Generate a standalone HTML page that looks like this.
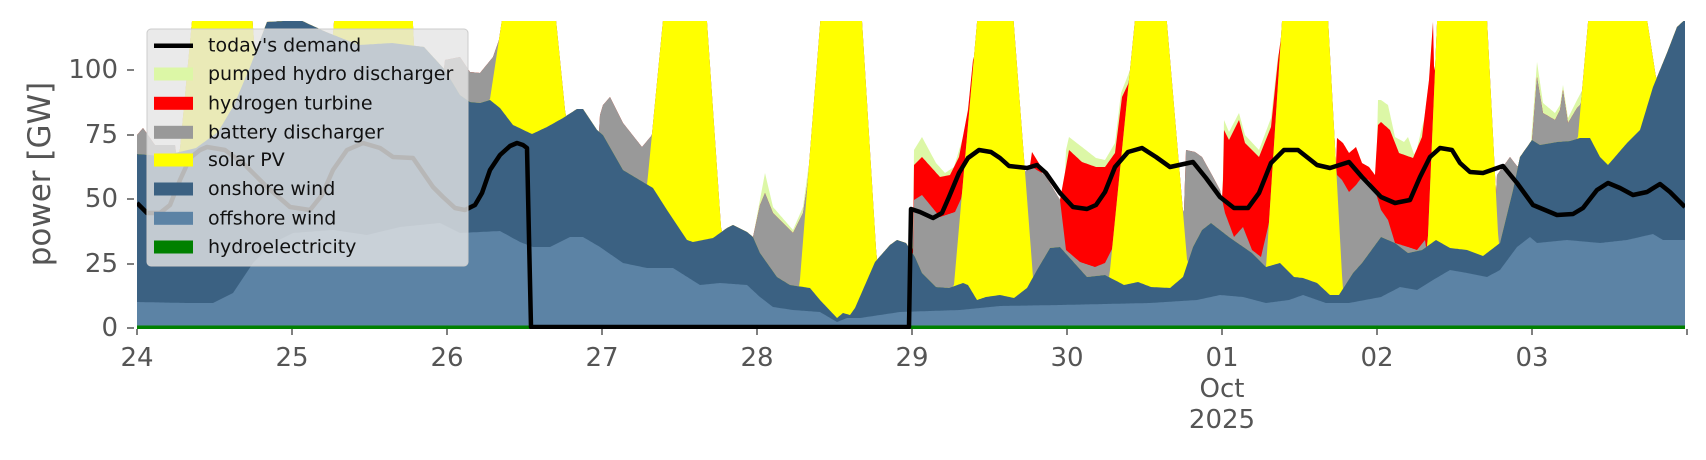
<!DOCTYPE html>
<html><head><meta charset="utf-8">
<style>
html,body{margin:0;padding:0;background:#fff;}
svg{display:block;font-family:"DejaVu Sans","Liberation Sans",sans-serif;}
</style></head>
<body>
<svg id="s" width="1706" height="460" viewBox="0 0 1706 460" xmlns="http://www.w3.org/2000/svg">
<defs><clipPath id="c"><rect x="137" y="21" width="1548" height="308"/></clipPath></defs>
<g id="areas" clip-path="url(#c)"></g>
<g id="ticks" stroke="#555" stroke-width="1.5"></g>
<g id="tl" fill="#555" font-size="26"></g>
<text transform="translate(50,174) rotate(-90)" text-anchor="middle" font-size="31" fill="#555">power [GW]</text>
<g id="leg">
<rect x="147" y="29" width="321" height="237" rx="4" fill="#e5e5e5" fill-opacity="0.8" stroke="#cccccc" stroke-width="1"/>
<line x1="154" y1="45.7" x2="193" y2="45.7" stroke="#000" stroke-width="4.5"/>
<rect x="154" y="67.5" width="39" height="13" fill="#dcf7a6"/>
<rect x="154" y="96.8" width="39" height="13" fill="#ff0000"/>
<rect x="154" y="125.8" width="39" height="13" fill="#999999"/>
<rect x="154" y="153.5" width="39" height="13" fill="#ffff00"/>
<rect x="154" y="182.5" width="39" height="13" fill="#3b6182"/>
<rect x="154" y="211.8" width="39" height="13" fill="#5c83a5"/>
<rect x="154" y="240.5" width="39" height="13" fill="#008000"/>
<g font-size="19" fill="#111" dominant-baseline="central">
<text x="208" y="45.7">today's demand</text>
<text x="208" y="74">pumped hydro discharger</text>
<text x="208" y="103.3">hydrogen turbine</text>
<text x="208" y="132.3">battery discharger</text>
<text x="208" y="160">solar PV</text>
<text x="208" y="189">onshore wind</text>
<text x="208" y="218.3">offshore wind</text>
<text x="208" y="247">hydroelectricity</text>
</g>
</g>
</svg>
<script>
var NS="http://www.w3.org/2000/svg";
function interp(L,x){if(x<L[0][0]||x>L[L.length-1][0])return null;for(var i=0;i<L.length-1;i++){var a=L[i],b=L[i+1];if(x>=a[0]&&x<=b[0]){if(b[0]==a[0])return a[1];return a[1]+(b[1]-a[1])*(x-a[0])/(b[0]-a[0]);}}return null;}
function keyv(G,x){var m=999;for(var i=0;i<G.length;i++){var v=interp(G[i],x);if(v!==null&&v<m)m=v;}return m;}
var ON=[[137,154],[163,156],[196,148],[218,132],[234,105],[250,67],[267,22],[300,20],[326,32],[359,45],[392,43],[424,47],[445,70],[460,95],[470,102],[480,103],[490,100],[500,108],[513,125],[532,134],[547,127],[563,118],[577,109],[583,109],[597,130],[603,135],[623,170],[643,182],[653,188],[667,210],[687,240],[693,242],[713,238],[727,228],[733,225],[747,232],[753,237],[760,253],[777,277],[790,285],[810,288],[820,300],[837,318],[843,313],[850,315],[855,308],[875,262],[890,245],[897,240],[906,243],[915,257],[922,273],[936,287],[949,288],[963,283],[968,285],[977,300],[986,297],[1000,295],[1014,298],[1027,288],[1037,270],[1050,248],[1060,247],[1069,257],[1087,277],[1105,275],[1124,285],[1138,282],[1151,287],[1170,288],[1183,277],[1193,247],[1202,230],[1211,223],[1229,237],[1252,253],[1266,267],[1280,263],[1294,277],[1303,278],[1317,283],[1330,295],[1339,295],[1353,273],[1362,263],[1381,237],[1395,243],[1408,253],[1422,250],[1436,240],[1450,248],[1467,250],[1483,256],[1500,243],[1513,190],[1520,157],[1532,140],[1540,145],[1557,142],[1570,141],[1580,138],[1590,138],[1600,157],[1608,165],[1627,143],[1640,130],[1653,87],[1667,53],[1677,27],[1690,15]];
var OFF=[[137,302],[187,303],[213,303],[233,293],[253,263],[273,243],[293,233],[333,230],[367,235],[400,227],[440,223],[460,233],[500,231],[520,242],[533,247],[550,247],[570,237],[583,237],[600,247],[623,263],[647,268],[673,268],[700,285],[720,283],[747,285],[760,297],[773,307],[793,310],[820,312],[837,322],[847,318],[860,318],[900,312],[960,310],[1000,306],[1060,305],[1150,303],[1197,300],[1220,295],[1243,297],[1266,303],[1289,300],[1303,295],[1326,303],[1349,303],[1381,297],[1400,287],[1417,290],[1433,280],[1450,270],[1467,273],[1487,277],[1500,270],[1517,247],[1530,237],[1537,243],[1567,240],[1600,243],[1627,240],[1653,234],[1663,240],[1690,240]];
var SOL=[[163,194,251,275],[320,335,412,425],[455,505,554,587],[633,665,705.5,728],[796,822,860.7,881],[950,979,1012,1037],[1104,1137,1165,1193],[1262,1283.4,1327,1345],[1424,1438,1486,1503],[1561,1590,1644,1695]];
function solk(x){var m=999;for(var i=0;i<SOL.length;i++){var t=SOL[i],v=999;if(x<=t[0]||x>=t[3])v=999;else if(x<t[1])v=330-330*(x-t[0])/(t[1]-t[0]);else if(x<=t[2])v=-50;else v=330*(x-t[2])/(t[3]-t[2]);if(v<m)m=v;}return m;}
var BK=[[[137,135],[143,128],[155,145],[175,145],[180,330]],[[440,330],[445,60],[460,57],[470,72],[480,73],[493,57],[500,37],[505,330]],[[597,330],[600,115],[603,105],[610,97],[623,123],[642,147],[652,135],[660,80],[665,330]],[[750,330],[753,237],[760,205],[765,193],[773,213],[793,233],[803,213],[808,180],[812,330]],[[912,330],[914,200],[922,195],[940,217],[955,212],[965,190],[972,150],[978,330]],[[1014,330],[1020,175],[1032,167],[1045,175],[1060,200],[1066,250],[1080,262],[1095,267],[1105,263],[1115,243],[1122,200],[1130,150],[1138,330]],[[1180,330],[1186,150],[1195,152],[1202,157],[1212,175],[1220,190],[1225,213],[1234,237],[1243,227],[1252,250],[1261,257],[1268,227],[1275,200],[1284,330]],[[1330,330],[1337,175],[1342,180],[1349,192],[1356,185],[1362,177],[1369,180],[1375,190],[1381,210],[1388,220],[1395,243],[1408,247],[1417,250],[1425,240],[1438,330]],[[1490,330],[1497,175],[1510,157],[1520,170],[1525,200],[1530,330]],[[1528,330],[1532,140],[1537,77],[1543,113],[1555,120],[1560,110],[1563,90],[1568,123],[1577,108],[1585,100],[1592,330]]];
var HK=[[[912,330],[914,165],[922,157],[940,177],[950,175],[959,157],[968,110],[973,60],[978,330]],[[1020,330],[1025,200],[1032,152],[1040,165],[1045,190],[1060,200],[1066,167],[1069,150],[1082,162],[1096,167],[1105,167],[1115,153],[1122,97],[1130,80],[1138,330]],[[1220,330],[1224,130],[1229,140],[1239,120],[1245,143],[1259,157],[1271,127],[1278,60],[1283,22],[1290,330]],[[1335,330],[1337,138],[1343,143],[1349,153],[1356,147],[1362,163],[1369,167],[1375,175],[1378,125],[1381,122],[1390,130],[1399,153],[1413,158],[1422,137],[1429,80],[1433,22],[1440,330]]];
var PK=[[[912,330],[914,150],[922,137],[936,163],[945,173],[954,167],[963,137],[970,97],[975,60],[978,330]],[[1060,330],[1066,150],[1069,137],[1082,147],[1096,158],[1105,160],[1115,143],[1121,93],[1130,70],[1138,330]],[[1220,330],[1224,120],[1229,132],[1239,113],[1245,135],[1259,150],[1271,118],[1278,55],[1290,330]],[[1375,330],[1378,100],[1381,100],[1388,105],[1395,137],[1404,142],[1408,137],[1415,157],[1422,127],[1429,103],[1433,22],[1440,330]],[[750,330],[753,237],[765,173],[773,207],[793,230],[803,207],[808,170],[812,330]],[[1528,330],[1532,130],[1537,62],[1543,103],[1555,113],[1560,105],[1563,85],[1568,118],[1577,100],[1585,85],[1592,330]]];
var xs=[],L={P:[],H:[],B:[],S:[],O:[],F:[]};
for(var x=137;x<=1686;x+=1){var o=interp(ON,x),f=interp(OFF,x);var s=Math.min(o,solk(x));var b=Math.min(s,keyv(BK,x));var h=Math.min(b,keyv(HK,x));var p=Math.min(h,keyv(PK,x));
xs.push(x);L.P.push(p);L.H.push(h);L.B.push(b);L.S.push(s);L.O.push(o);L.F.push(f);}
function path(arr,col){var d="M"+xs[0]+",330";for(var i=0;i<xs.length;i++)d+="L"+xs[i]+","+Math.max(-60,arr[i]).toFixed(1);d+="L"+xs[xs.length-1]+",330Z";var e=document.createElementNS(NS,"path");e.setAttribute("d",d);e.setAttribute("fill",col);document.getElementById("areas").appendChild(e);}
path(L.P,"#dcf7a6");path(L.H,"#ff0000");path(L.B,"#999999");path(L.S,"#ffff00");path(L.O,"#3b6182");path(L.F,"#5c83a5");
var hy=document.createElementNS(NS,"rect");hy.setAttribute("x",137);hy.setAttribute("y",325.5);hy.setAttribute("width",1550);hy.setAttribute("height",5);hy.setAttribute("fill","#008000");document.getElementById("areas").appendChild(hy);
var DEM=[[137,203],[147,213],[160,213],[170,205],[180,180],[190,158],[200,150],[207,147],[225,150],[245,165],[267,187],[290,207],[310,210],[322,195],[333,170],[347,150],[363,143],[380,148],[393,157],[413,158],[433,187],[443,197],[455,208],[465,210],[475,205],[482,193],[490,170],[500,155],[510,146],[517,143],[523,145],[527,148],[531,327],[909,327],[911,209],[920,212],[933,218],[942,213],[949,197],[959,173],[968,158],[979,150],[991,152],[1000,158],[1009,166],[1027,168],[1037,165],[1046,173],[1060,193],[1073,207],[1087,209],[1096,205],[1105,192],[1115,167],[1128,152],[1142,148],[1156,157],[1170,167],[1193,162],[1206,178],[1220,197],[1234,208],[1248,208],[1259,193],[1271,163],[1284,150],[1298,150],[1317,165],[1330,168],[1349,162],[1362,177],[1381,197],[1395,203],[1410,200],[1420,177],[1430,157],[1440,148],[1452,150],[1460,163],[1470,172],[1483,173],[1503,166],[1517,183],[1533,205],[1557,215],[1573,214],[1583,208],[1597,190],[1608,183],[1620,188],[1633,195],[1647,192],[1660,184],[1670,192],[1685,207]];
var pl=document.createElementNS(NS,"polyline");pl.setAttribute("points",DEM.map(function(p){return p[0]+","+p[1];}).join(" "));pl.setAttribute("fill","none");pl.setAttribute("stroke","#000");pl.setAttribute("stroke-width","4.5");pl.setAttribute("stroke-linejoin","round");document.getElementById("areas").appendChild(pl);
var tk=document.getElementById("ticks"),tl=document.getElementById("tl");
function add(par,tag,at,txt){var e=document.createElementNS(NS,tag);for(var k in at)e.setAttribute(k,at[k]);if(txt)e.textContent=txt;par.appendChild(e);}
[[0,328],[25,264],[50,199],[75,135],[100,70]].forEach(function(t){add(tk,"line",{x1:127,x2:134,y1:t[1],y2:t[1]});add(tl,"text",{x:118,y:t[1],"text-anchor":"end","dominant-baseline":"central"},String(t[0]));});
var days=["24","25","26","27","28","29","30","01","02","03",""];
for(var i=0;i<11;i++){var xx=137+155*i;add(tk,"line",{x1:xx,x2:xx,y1:329,y2:335});if(days[i])add(tl,"text",{x:xx,y:358,"text-anchor":"middle","dominant-baseline":"central"},days[i]);}
add(tl,"text",{x:137+155*7,y:389,"text-anchor":"middle","dominant-baseline":"central"},"Oct");
add(tl,"text",{x:137+155*7,y:420,"text-anchor":"middle","dominant-baseline":"central"},"2025");
var s=document.getElementById("s");s.appendChild(document.getElementById("leg"));
</script>
</body></html>
